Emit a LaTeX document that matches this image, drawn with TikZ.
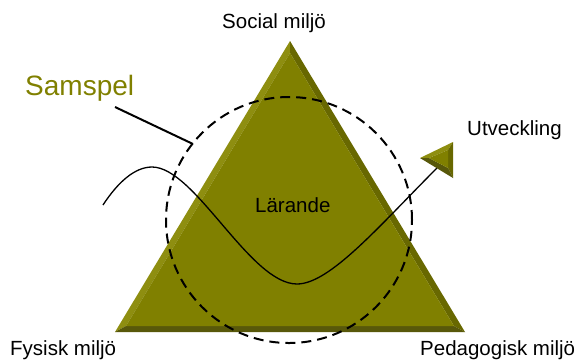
\documentclass[tikz,border=0pt]{standalone}
\usepackage{fontspec}
\setmainfont{Liberation Sans}
\definecolor{olivefill}{RGB}{128,128,0}
\definecolor{olivelight}{RGB}{142,142,16}
\definecolor{olivedark}{RGB}{104,104,0}
\definecolor{olivedeep}{RGB}{88,88,10}
\tikzset{
  lbl/.style={anchor=base west,inner sep=0pt,font=\fontsize{20.5}{24}\selectfont},
  dashcircle/.style={draw=black,line width=2pt,dash pattern=on 10pt off 6pt},
  wave/.style={draw=black,line width=1.3pt},
  pointer/.style={draw=black,line width=2pt}
}
\begin{document}
\begin{tikzpicture}[x=1pt,y=-1pt]
\useasboundingbox (0,0) rectangle (578,360);
% main beveled triangle
\coordinate (A) at (290,41);
\coordinate (B) at (115,332);
\coordinate (C) at (465,332);
\coordinate (Ai) at (290,53);
\coordinate (Bi) at (126,326);
\coordinate (Ci) at (454,326);
\fill[olivelight] (A) -- (B) -- (Bi) -- (Ai) -- cycle;
\fill[olivedark] (A) -- (C) -- (Ci) -- (Ai) -- cycle;
\fill[olivedeep] (B) -- (C) -- (Ci) -- (Bi) -- cycle;
\fill[olivefill] (Ai) -- (Bi) -- (Ci) -- cycle;
% dashed circle
\node[circle,dashcircle,minimum size=246pt,inner sep=0pt] (ring) at (289,220) {};
% wave
\coordinate (w0) at (103,205);
\coordinate (w1) at (152,167);
\coordinate (w2) at (297,284);
\coordinate (w3) at (437,168);
\draw[wave] (w0) .. controls (118,182) and (135,167) .. (w1)
  .. controls (195,167) and (250,284) .. (w2)
  .. controls (330,284) and (380,225) .. (w3);
% small beveled arrowhead triangle
\coordinate (L) at (420,158);
\coordinate (T) at (453,142);
\coordinate (D) at (453,178);
\coordinate (Li) at (429,158);
\coordinate (Ti) at (448,150);
\coordinate (Di) at (448,168);
\fill[olivelight] (L) -- (T) -- (Ti) -- (Li) -- cycle;
\fill[olivedark] (T) -- (D) -- (Di) -- (Ti) -- cycle;
\fill[olivedeep] (D) -- (L) -- (Li) -- (Di) -- cycle;
\fill[olivefill] (Li) -- (Ti) -- (Di) -- cycle;
% labels
\node[lbl] (social) at (222,28) {Social miljö};
\node[lbl] (fysisk) at (10,355) {Fysisk miljö};
\node[lbl] (pedag) at (420,355) {Pedagogisk miljö};
\node[lbl] (larande) at (255,212) {Lärande};
\node[lbl] (utv) at (467,135) {Utveckling};
\node[anchor=base west,inner sep=0pt,font=\fontsize{28}{32}\selectfont,text=olivefill] (samspel) at (25,95) {Samspel};
% pointer from Samspel to circle
\coordinate (p0) at (115,107);
\coordinate (p1) at (193,144);
\draw[pointer] (p0) -- (p1);
\end{tikzpicture}
\end{document}
